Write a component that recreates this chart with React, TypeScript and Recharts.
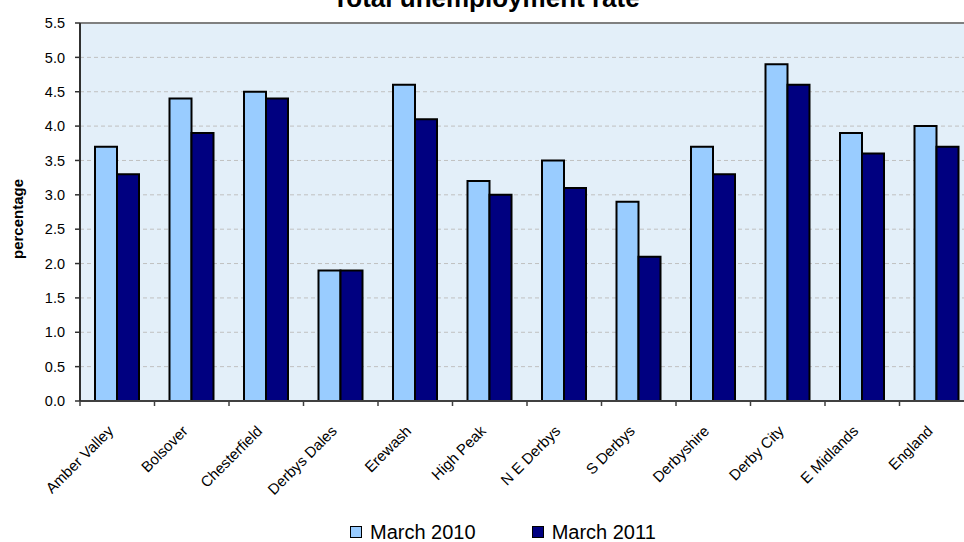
import { BarChart, Bar, XAxis, YAxis, CartesianGrid, ReferenceLine, Label } from "recharts"

const AREAS = [
  "Amber Valley",
  "Bolsover",
  "Chesterfield",
  "Derbys Dales",
  "Erewash",
  "High Peak",
  "N E Derbys",
  "S Derbys",
  "Derbyshire",
  "Derby City",
  "E Midlands",
  "England",
]
const MARCH_2010 = [3.7, 4.4, 4.5, 1.9, 4.6, 3.2, 3.5, 2.9, 3.7, 4.9, 3.9, 4.0]
const MARCH_2011 = [3.3, 3.9, 4.4, 1.9, 4.1, 3.0, 3.1, 2.1, 3.3, 4.6, 3.6, 3.7]
const Y_TICKS = [0, 0.5, 1, 1.5, 2, 2.5, 3, 3.5, 4, 4.5, 5, 5.5]

const SERIES = [
  { key: "m2010", name: "March 2010", color: "#99ccff" },
  { key: "m2011", name: "March 2011", color: "#000080" },
]

const data = AREAS.map((area, i) => ({ area, m2010: MARCH_2010[i], m2011: MARCH_2011[i] }))

const FONT = "'Liberation Sans', Arial, sans-serif"

// ticks sit on the category boundaries, labels hang off the centre at 45 degrees
function AreaTick(props: any) {
  const { x, y, payload, index } = props
  const half = payload?.offset ?? 0
  const ax = x - 3
  const ay = y + 31
  return (
    <g>
      <line x1={x - half} x2={x - half} y1={y} y2={y + 5} stroke="#404040" strokeWidth={1.5} />
      {index === AREAS.length - 1 && (
        <line x1={x + half} x2={x + half} y1={y} y2={y + 5} stroke="#404040" strokeWidth={1.5} />
      )}
      <text
        x={ax}
        y={ay}
        textAnchor="end"
        transform={`rotate(-45 ${ax} ${ay})`}
        fontSize={15}
        fontFamily={FONT}
        fill="#000"
      >
        {payload.value}
      </text>
    </g>
  )
}

export default function App() {
  return (
    <div
      style={{
        position: "absolute",
        left: 0,
        top: 0,
        width: 964,
        height: 542,
        overflow: "hidden",
        background: "#fff",
        fontFamily: FONT,
      }}
    >
      <div
        style={{
          position: "absolute",
          left: 286,
          width: 400,
          top: -15,
          textAlign: "center",
          fontSize: 26,
          lineHeight: "26px",
          fontWeight: "bold",
          whiteSpace: "nowrap",
        }}
      >
        Total unemployment rate
      </div>

      <BarChart
        width={1000}
        height={542}
        data={data}
        margin={{ top: 23, right: 26, bottom: 0, left: 0 }}
        barGap={0}
        barSize={22}
      >
        <CartesianGrid
          vertical={false}
          stroke="#c0c0c0"
          strokeDasharray="4 3"
          fill="#e3eff9"
          fillOpacity={1}
        />
        <XAxis
          dataKey="area"
          interval={0}
          height={141}
          tickSize={0}
          tickMargin={0}
          tick={<AreaTick />}
          axisLine={{ stroke: "#404040", strokeWidth: 2 }}
          tickLine={false}
        />
        <YAxis
          width={80}
          domain={[0, 5.5]}
          ticks={Y_TICKS}
          tickFormatter={(v: number) => v.toFixed(1)}
          tick={{ fontSize: 14.5, fontFamily: FONT, fill: "#000" }}
          tickSize={5}
          tickMargin={10}
          axisLine={{ stroke: "#303030", strokeWidth: 2 }}
          tickLine={{ stroke: "#303030", strokeWidth: 1.5 }}
        >
          <Label
            content={() => (
              <text
                x={23}
                y={219}
                transform="rotate(-90 23 219)"
                textAnchor="middle"
                fontSize={15}
                fontWeight="bold"
                fontFamily={FONT}
              >
                percentage
              </text>
            )}
          />
        </YAxis>
        <ReferenceLine y={5.5} stroke="#808080" strokeWidth={2} />
        {SERIES.map((s) => (
          <Bar
            key={s.key}
            dataKey={s.key}
            name={s.name}
            fill={s.color}
            stroke="#000"
            strokeWidth={2}
            isAnimationActive={false}
          />
        ))}
      </BarChart>

      <div
        style={{
          position: "absolute",
          left: 350,
          top: 522,
          display: "flex",
          alignItems: "center",
          fontSize: 20,
          lineHeight: "20px",
        }}
      >
        {SERIES.map((s, i) => (
          <div key={s.key} style={{ display: "flex", alignItems: "center", marginLeft: i ? 56 : 0 }}>
            <span
              style={{
                width: 10,
                height: 10,
                border: "1.5px solid #000",
                background: s.color,
                marginRight: 8,
              }}
            />
            <span>{s.name}</span>
          </div>
        ))}
      </div>
    </div>
  )
}
